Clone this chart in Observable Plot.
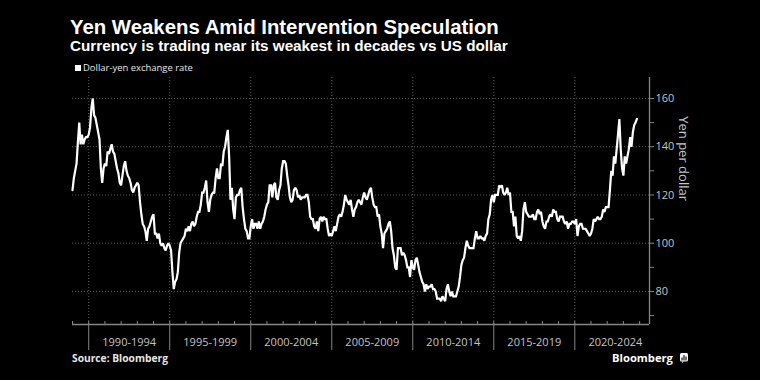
<!DOCTYPE html>
<html>
<head>
<meta charset="utf-8">
<script src="https://cdn.jsdelivr.net/npm/d3@7"></script>
<script src="https://cdn.jsdelivr.net/npm/@observablehq/plot@0.6"></script>
<style>
  html, body { margin: 0; padding: 0; background: #000; }
  body { width: 760px; height: 380px; position: relative; overflow: hidden; font-family: "Open Sans", sans-serif; color: #fff; }
  .t { position: absolute; white-space: nowrap; line-height: 0.85; }
  #header { position: absolute; left: 0; top: 0; }
  #legend { font-size: 9.5px; color: #e6e6e6; }
  #swatch { position: absolute; left: 75px; top: 65px; width: 6px; height: 6px; background: #fff; }
  #source { font-weight: 700; font-size: 10px; color: #e6e6e6; }
  #brand { font-weight: 700; font-size: 12.5px; color: #fff; }
  #chart { position: absolute; left: 0; top: 70px; }
  #logo { position: absolute; left: 680px; top: 353px; }
</style>
</head>
<body>
<svg id="header" width="760" height="60">
  <text font-family="Liberation Sans" font-weight="700" fill="#fff">
    <tspan id="title" x="70" y="33.5" font-size="20">Yen Weakens Amid Intervention Speculation</tspan>
    <tspan id="subtitle" x="70" y="51" font-size="15">Currency is trading near its weakest in decades vs US dollar</tspan>
  </text>
</svg>
<div id="swatch"></div>
<div id="legend" class="t">Dollar-yen exchange rate</div>
<div id="chart"></div>
<div id="source" class="t">Source: Bloomberg</div>
<div id="brand" class="t">Bloomberg</div>
<svg id="logo" width="8" height="10" viewBox="0 0 8 10">
  <rect x="0" y="0" width="8" height="8.5" rx="1.5" fill="#fff"/>
  <path d="M2 7.5 L2 4.5 M4 7.5 L4 2 M6 7.5 L6 3.5" stroke="#000" stroke-width="1.1"/>
  <path d="M2 8.5 L2 10 L3.5 8.5 Z" fill="#fff"/>
</svg>
<script>
// Dollar-yen monthly values, Jan 1989 .. Nov 2023
const startYear = 1989;
const usdjpy = [
  // 1989
  122, 127, 130, 133, 142, 150, 141, 145, 141, 143, 144, 144,
  // 1990
  145, 148, 156, 160, 153, 152, 149, 146, 143, 131, 125, 131,
  // 1991
  133, 132, 138, 137, 139, 141, 138, 137, 134, 131, 129, 125,
  // 1992
  124, 128, 132, 134, 130, 128, 127, 125, 122, 121, 123, 124,
  // 1993
  125, 124, 117, 112, 108, 107, 105, 101, 106, 107, 109, 111,
  // 1994
  112, 104, 104, 102, 104, 100, 99, 100, 98, 97, 99, 100,
  // 1995
  99, 97, 88, 81, 84, 85, 88, 96, 100, 101, 102, 103,
  // 1996
  106, 105, 107, 105, 108, 109, 107, 108, 111, 113, 113, 116,
  // 1997
  121, 121, 123, 126, 117, 113, 118, 120, 121, 121, 127, 131,
  // 1998
  127, 127, 133, 132, 138, 140, 144, 147, 136, 118, 123, 114,
  // 1999
  110, 119, 120, 120, 122, 123, 115, 110, 106, 105, 102, 102,
  // 2000
  107, 110, 106, 108, 108, 106, 109, 106, 108, 109, 111, 114,
  // 2001
  116, 117, 124, 124, 119, 124, 125, 119, 118, 122, 124, 131,
  // 2002
  134, 134, 133, 128, 124, 119, 117, 118, 122, 123, 122, 119,
  // 2003
  120, 118, 119, 119, 119, 120, 120, 117, 111, 110, 110, 107,
  // 2004
  106, 109, 105, 110, 111, 109, 111, 110, 110, 106, 103, 104,
  // 2005
  103, 105, 107, 105, 108, 111, 112, 111, 113, 116, 120, 118,
  // 2006
  117, 116, 118, 114, 111, 114, 115, 117, 118, 117, 116, 119,
  // 2007
  121, 119, 118, 120, 122, 123, 119, 116, 115, 115, 111, 112,
  // 2008
  107, 104, 98, 104, 105, 106, 108, 109, 105, 98, 95, 90,
  // 2009
  89, 98, 98, 98, 95, 96, 95, 93, 90, 90, 86, 93,
  // 2010
  90, 89, 93, 94, 91, 88, 86, 84, 83, 80, 83, 81,
  // 2011
  82, 82, 83, 81, 81, 80, 77, 77, 77, 76, 78, 77,
  // 2012
  76, 81, 83, 80, 78, 80, 78, 78, 78, 80, 82, 86,
  // 2013
  91, 93, 94, 98, 101, 99, 98, 98, 98, 98, 102, 105,
  // 2014
  102, 102, 103, 102, 102, 101, 103, 104, 110, 112, 118, 120,
  // 2015
  117, 120, 120, 120, 124, 123, 124, 121, 120, 121, 123, 120,
  // 2016
  121, 113, 113, 107, 111, 103, 102, 103, 101, 105, 114, 117,
  // 2017
  113, 112, 111, 111, 111, 112, 110, 110, 113, 114, 112, 113,
  // 2018
  109, 107, 106, 109, 109, 111, 112, 111, 114, 113, 113, 110,
  // 2019
  109, 111, 111, 111, 109, 108, 109, 106, 108, 108, 109, 109,
  // 2020
  108, 110, 103, 107, 108, 108, 106, 106, 106, 105, 104, 103,
  // 2021
  104, 106, 110, 109, 110, 111, 110, 110, 111, 114, 113, 115,
  // 2022
  115, 115, 122, 130, 128, 136, 133, 139, 145, 151.5, 139, 131,
  // 2023
  128, 136, 133, 136, 139, 144, 140, 146, 149, 150, 151.5
];
const majorYears = [1990, 1995, 2000, 2005, 2010, 2015, 2020];
const minorYears = d3.range(1989, 2025);
const periodLabels = ["1990-1994", "1995-1999", "2000-2004", "2005-2009", "2010-2014", "2015-2019", "2020-2024"];
const yTicks = [70, 80, 90, 100, 110, 120, 130, 140, 150, 160];
const gridValues = [80, 100, 120, 140, 160];
const yLabel = "Yen per dollar";

const xDomain = [1989, 2024.61];
const yDomain = [66.3, 168.7];

const data = usdjpy.map((v, i) => ({date: startYear + i / 12, value: v}));
const periods = periodLabels.map(l => ({mid: +l.slice(0, 4) + 2.5, label: l}));

const axisColor = "#858585";
const gridColor = "#595959";
const labelColor = "#c4c4c4";

const chart = Plot.plot({
  width: 760,
  height: 290,
  marginTop: 7,
  marginBottom: 36,
  marginLeft: 72,
  marginRight: 111,
  style: {background: "transparent", color: labelColor, fontFamily: "Open Sans", fontSize: "11px"},
  x: {domain: xDomain, axis: null},
  y: {domain: yDomain, axis: null},
  marks: [
    Plot.ruleY(gridValues, {stroke: gridColor, strokeDasharray: "1,2"}),
    Plot.ruleX(majorYears, {stroke: gridColor, strokeDasharray: "1,2"}),
    Plot.line(data, {x: "date", y: "value", stroke: "#fff", strokeWidth: 2.2, strokeLinejoin: "miter", strokeMiterlimit: 2}),
    Plot.ruleY([yDomain[0]], {stroke: axisColor, strokeWidth: 1.3}),
    Plot.ruleX([xDomain[1]], {stroke: axisColor, strokeWidth: 1.3}),
    Plot.ruleX(minorYears, {y1: yDomain[0], y2: yDomain[0], insetTop: -3, stroke: axisColor}),
    Plot.ruleX(majorYears, {y1: yDomain[0], y2: yDomain[0], insetBottom: -26, stroke: axisColor}),
    Plot.text(periods, {x: "mid", text: "label", frameAnchor: "bottom", dy: 21.5, fill: labelColor, fontSize: 11}),
    Plot.axisY(yTicks, {anchor: "right", label: null, tickSize: 4, tickPadding: 2, stroke: axisColor, fill: labelColor, fontSize: 11,
      tickFormat: d => d % 20 === 0 ? String(d) : ""}),
    Plot.text([yLabel], {frameAnchor: "right", rotate: 90, dx: 34, fill: labelColor, fontSize: 13})
  ]
});
document.getElementById("chart").appendChild(chart);

// fit header tspans to the reference widths
function fitTspan(id, width) {
  const el = document.getElementById(id);
  const w = el.getComputedTextLength();
  const fs = parseFloat(el.getAttribute("font-size"));
  el.setAttribute("font-size", (fs * width / w).toFixed(2));
}
fitTspan("title", 429);
fitTspan("subtitle", 438);

// place footer / legend text by baseline and width
function place(id, left, baseline, width) {
  const el = document.getElementById(id);
  if (width) {
    const w = el.getBoundingClientRect().width;
    const fs = parseFloat(getComputedStyle(el).fontSize);
    el.style.fontSize = (fs * width / w) + "px";
  }
  const f = parseFloat(getComputedStyle(el).fontSize);
  el.style.left = left + "px";
  el.style.top = (baseline - 0.813 * f) + "px";
}
place("legend", 83, 71.5, 110);
place("source", 72, 362, 96);
place("brand", 612, 362, 61);
</script>
</body>
</html>
